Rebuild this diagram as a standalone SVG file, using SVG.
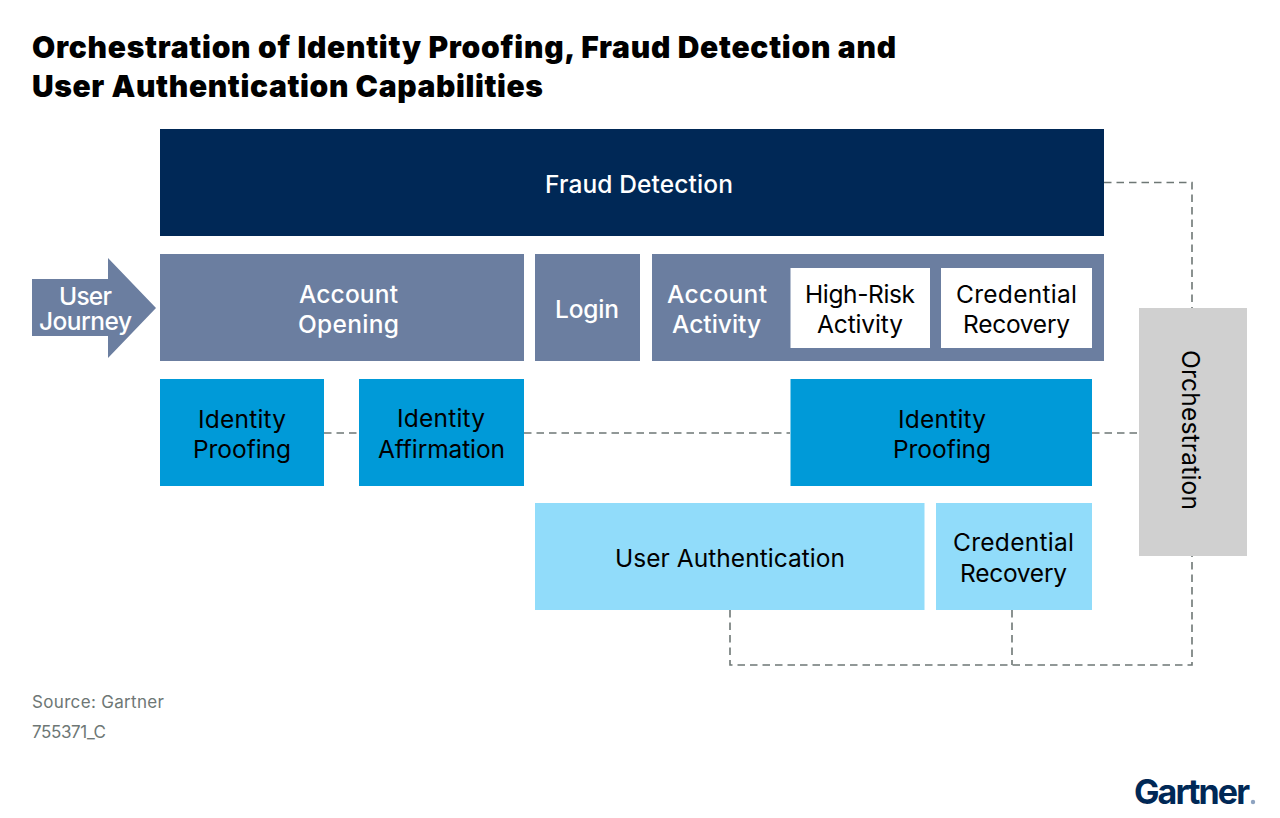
<svg xmlns="http://www.w3.org/2000/svg" width="1280" height="818" viewBox="0 0 1280 818">
<style>
text{font-family:Inter,"Liberation Sans",sans-serif;font-size:24.5px;text-anchor:middle;fill:#000}
.w{fill:#fff;font-weight:500}
.title{font-size:30px;font-weight:900;text-anchor:start}
.src{font-size:17px;fill:#6e7775;text-anchor:start}
.d{fill:#002856}.s{fill:#6b7ea0}.b{fill:#009ad8}.l{fill:#91dcfa}
.c{fill:none;stroke:#6e7775;stroke-width:1.6;stroke-dasharray:7.5 5}
</style>
<rect width="1280" height="818" fill="#fff"/>
<g id="title">
<text class="title" x="32" y="58" textLength="864">Orchestration of Identity Proofing, Fraud Detection and</text>
<text class="title" x="32" y="97" textLength="511">User Authentication Capabilities</text>
</g>
<g id="connectors">
<path class="c" d="M1104 182.500H1192V308"/>
<path class="c" d="M324 433H359"/>
<path class="c" d="M524 433H790"/>
<path class="c" d="M1092 433H1139"/>
<path class="c" d="M730 610V665H1192V556"/>
<path class="c" d="M1012 610V665"/>
</g>
<g id="user-journey">
<polygon class="s" points="32,279 108,279 108,258 156,308 108,358 108,336 32,336"/>
<text class="w"><tspan x="85.500" y="305" textLength="53">User</tspan><tspan x="85.500" y="330" textLength="93">Journey</tspan></text>
</g>
<g id="fraud-detection">
<rect class="d" x="160" y="129" width="944" height="107"/>
<text class="w" x="639" y="193" textLength="188">Fraud Detection</text>
</g>
<g id="account-opening">
<rect class="s" x="160" y="254" width="364" height="107"/>
<text class="w" x="348.500" y="303" textLength="99">Account</text>
<text class="w" x="348.500" y="333" textLength="101">Opening</text>
</g>
<g id="login">
<rect class="s" x="535" y="254" width="105" height="107"/>
<text class="w" x="587" y="318" textLength="64">Login</text>
</g>
<g id="account-activity">
<rect class="s" x="652" y="254" width="452" height="107"/>
<text class="w" x="717" y="303" textLength="100">Account</text>
<text class="w" x="716.500" y="333" textLength="89">Activity</text>
</g>
<g id="high-risk-activity">
<rect fill="#fff" x="790.500" y="268" width="139.500" height="80"/>
<text x="860" y="303" textLength="110">High-Risk</text>
<text x="860" y="333" textLength="86">Activity</text>
</g>
<g id="credential-recovery-upper">
<rect fill="#fff" x="941" y="268" width="151" height="80"/>
<text x="1016.500" y="303" textLength="121">Credential</text>
<text x="1016.500" y="333" textLength="107">Recovery</text>
</g>
<g id="identity-proofing-left">
<rect class="b" x="160" y="379" width="164" height="107"/>
<text x="242" y="428" textLength="88">Identity</text>
<text x="242" y="458" textLength="98">Proofing</text>
</g>
<g id="identity-affirmation">
<rect class="b" x="359" y="379" width="165" height="107"/>
<text x="441" y="427" textLength="88">Identity</text>
<text x="441.500" y="458" textLength="127">Affirmation</text>
</g>
<g id="identity-proofing-right">
<rect class="b" x="790.500" y="379" width="301.500" height="107"/>
<text x="942" y="428" textLength="88">Identity</text>
<text x="942" y="458" textLength="98">Proofing</text>
</g>
<g id="user-authentication">
<rect class="l" x="535" y="503" width="389.500" height="107"/>
<text x="730" y="567" textLength="230">User Authentication</text>
</g>
<g id="credential-recovery-lower">
<rect class="l" x="936" y="503" width="156" height="107"/>
<text x="1013.500" y="551" textLength="121">Credential</text>
<text x="1013.500" y="582" textLength="107">Recovery</text>
</g>
<g id="orchestration">
<rect fill="#d0d0d0" x="1139" y="308" width="108" height="248"/>
<text transform="translate(1181.500 430) rotate(90)" textLength="160">Orchestration</text>
</g>
<g id="source">
<text class="src" x="32" y="708" textLength="132">Source: Gartner</text>
<text class="src" x="32" y="738" textLength="74">755371_C</text>
</g>
<g id="logo">
<text x="1134" y="804" style="font-size:34px;font-weight:700;text-anchor:start;fill:#002856" textLength="116">Gartner</text>
<circle cx="1253" cy="802" r="2.200" fill="#8ea3c0"/>
</g>
</svg>
